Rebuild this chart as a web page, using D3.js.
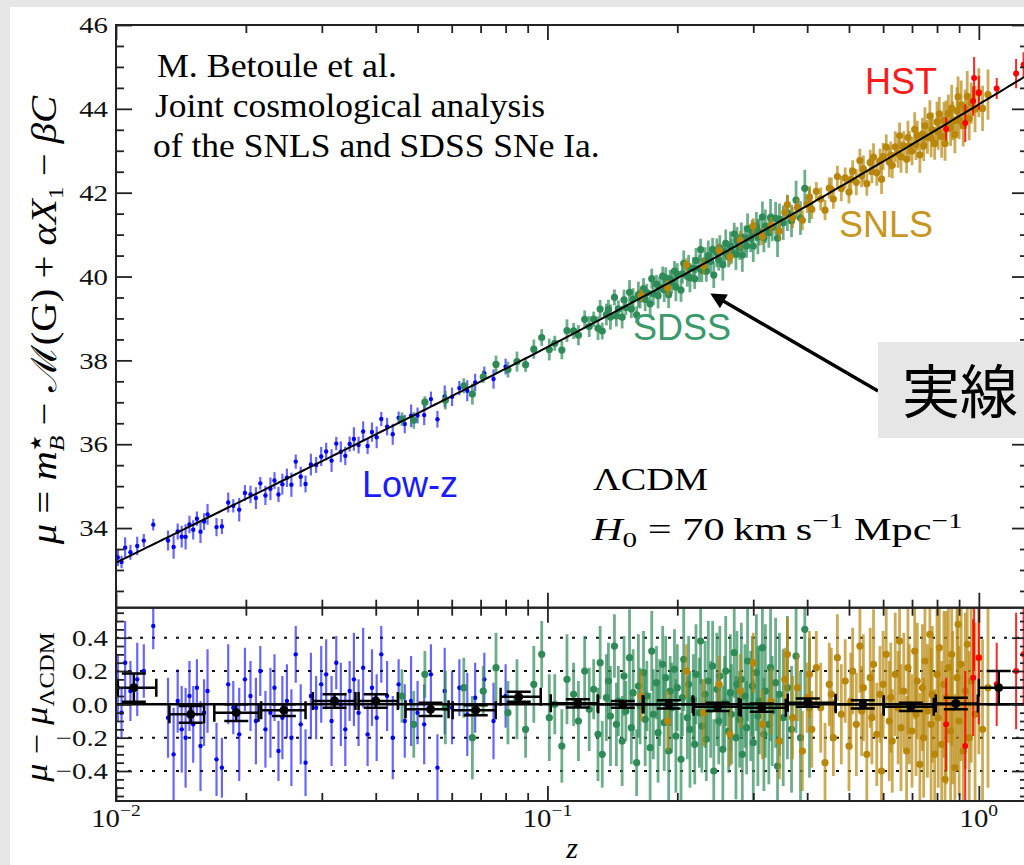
<!DOCTYPE html>
<html>
<head>
<meta charset="utf-8">
<title>Hubble diagram</title>
<script src="https://cdn.jsdelivr.net/npm/d3@7/dist/d3.min.js"></script>
<style>
  html, body { margin: 0; padding: 0; background: #e6e6e6; }
  svg { display: block; }
</style>
</head>
<body>
<svg id="drawing_hubble"></svg>
<script>
// ---- data: redshift, Hubble residual, error ----
const lowzZ = [0.0101, 0.0103, 0.0105, 0.0108, 0.0112, 0.0116, 0.0122, 0.0132, 0.0136, 0.0139,
  0.0142, 0.0145, 0.0148, 0.0151, 0.0154, 0.0157, 0.0160, 0.0163, 0.0171, 0.0176,
  0.0182, 0.0187, 0.0193, 0.0199, 0.0205, 0.0211, 0.0216, 0.0222, 0.0228, 0.0233,
  0.0238, 0.0243, 0.0249, 0.0255, 0.0261, 0.0268, 0.0275, 0.0283, 0.0291, 0.0299,
  0.0307, 0.0316, 0.0324, 0.0332, 0.0340, 0.0348, 0.0356, 0.0365, 0.0374, 0.0383,
  0.0392, 0.0402, 0.0412, 0.0425, 0.0438, 0.0452, 0.0467, 0.0483, 0.0500, 0.0518,
  0.0537, 0.0556, 0.0578, 0.0601, 0.0625, 0.0652, 0.0680, 0.0714, 0.0750, 0.0800];
const lowzRes = [0.10, -0.05, 0.25, 0.08, 0.15, 0.20, 0.47, -0.08, -0.30, 0.02,
  -0.15, -0.20, 0.05, -0.12, 0.10, -0.25, -0.05, 0.08, -0.33, -0.38,
  0.12, -0.02, -0.18, 0.15, 0.05, -0.10, 0.20, -0.15, -0.05, 0.10,
  -0.28, -0.08, 0.02, -0.20, 0.30, -0.12, -0.35, 0.05, -0.02, 0.12,
  0.18, -0.10, 0.25, 0.00, -0.15, 0.08, 0.15, -0.05, 0.22, -0.18,
  0.10, -0.08, 0.30, 0.05, -0.20, 0.12, -0.10, 0.02, -0.05, -0.12,
  0.18, -0.38, 0.08, -0.02, 0.10, -0.06, 0.04, 0.15, -0.10, 0.05];
const lowzErr = [0.20, 0.15, 0.25, 0.18, 0.22, 0.16, 0.14, 0.24, 0.28, 0.19,
  0.26, 0.30, 0.21, 0.23, 0.17, 0.27, 0.20, 0.25, 0.22, 0.18,
  0.24, 0.16, 0.28, 0.19, 0.21, 0.26, 0.15, 0.23, 0.27, 0.20,
  0.18, 0.25, 0.22, 0.29, 0.17, 0.24, 0.20, 0.26, 0.19, 0.23,
  0.21, 0.27, 0.16, 0.25, 0.22, 0.18, 0.28, 0.20, 0.24, 0.19,
  0.23, 0.26, 0.17, 0.21, 0.25, 0.15, 0.22, 0.27, 0.19, 0.24,
  0.18, 0.20, 0.26, 0.22, 0.17, 0.25, 0.21, 0.16, 0.23, 0.19];

const sdssZ = [0.046, 0.049, 0.052, 0.058, 0.064, 0.067, 0.071, 0.076, 0.081, 0.085,
  0.089, 0.093, 0.097, 0.101, 0.104, 0.108, 0.111, 0.115, 0.118, 0.122,
  0.125, 0.128, 0.131, 0.1325, 0.134, 0.137, 0.1385, 0.140, 0.143, 0.1445,
  0.146, 0.149, 0.1505, 0.152, 0.155, 0.1565, 0.158, 0.161, 0.1625, 0.164,
  0.167, 0.1685, 0.170, 0.173, 0.1745, 0.176, 0.179, 0.1805, 0.182, 0.185,
  0.1865, 0.188, 0.191, 0.1925, 0.194, 0.197, 0.1985, 0.200, 0.204, 0.2055,
  0.207, 0.211, 0.2125, 0.214, 0.218, 0.2195, 0.221, 0.225, 0.2265, 0.228,
  0.232, 0.2335, 0.236, 0.239, 0.2415, 0.243, 0.247, 0.2495, 0.251, 0.255,
  0.2575, 0.259, 0.263, 0.2655, 0.267, 0.271, 0.2735, 0.275, 0.279, 0.2815,
  0.283, 0.287, 0.2895, 0.291, 0.296, 0.2985, 0.300, 0.305, 0.3075, 0.310,
  0.315, 0.3175, 0.320, 0.326, 0.329, 0.332, 0.338, 0.3415, 0.345, 0.352,
  0.360, 0.368, 0.377, 0.386, 0.395, 0.405];
const sdssRes = [0.05, -0.12, 0.18, -0.02, 0.10, -0.20, 0.08, 0.22, -0.05, 0.03,
  -0.15, 0.12, 0.30, -0.08, 0.00, -0.25, 0.15, 0.06, -0.10, 0.20,
  -0.03, 0.09, -0.18, 0.25, -0.30, 0.04, 0.14, -0.07, 0.35, -0.12,
  0.02, -0.22, 0.17, -0.04, 0.28, -0.14, 0.07, -0.35, 0.11, -0.01,
  0.19, -0.09, 0.05, -0.26, 0.32, -0.06, 0.13, -0.17, 0.01, 0.24,
  -0.11, 0.16, -0.28, 0.08, -0.02, 0.21, -0.19, 0.10, -0.33, 0.04,
  0.27, -0.08, 0.12, -0.15, 0.03, -0.24, 0.18, -0.05, 0.38, -0.13,
  0.06, -0.21, 0.14, -0.03, 0.23, -0.40, 0.09, -0.10, 0.17, -0.27,
  0.01, 0.20, -0.16, 0.07, -0.06, 0.31, -0.20, 0.12, -0.09, 0.15,
  -0.30, 0.05, -0.14, 0.26, -0.01, 0.11, -0.23, 0.19, -0.07, 0.02,
  0.34, -0.18, 0.08, -0.12, 0.22, -0.04, 0.13, -0.37, 0.06, -0.08,
  0.10, -0.15, 0.29, -0.20, 0.45, -0.02];
const sdssErr = [0.16, 0.20, 0.14, 0.22, 0.18, 0.25, 0.15, 0.21, 0.19, 0.24,
  0.17, 0.23, 0.20, 0.26, 0.18, 0.22, 0.27, 0.19, 0.24, 0.21,
  0.25, 0.18, 0.28, 0.22, 0.20, 0.26, 0.23, 0.30, 0.19, 0.25,
  0.21, 0.27, 0.24, 0.18, 0.29, 0.22, 0.26, 0.20, 0.31, 0.23,
  0.25, 0.28, 0.21, 0.33, 0.24, 0.27, 0.22, 0.30, 0.26, 0.23,
  0.29, 0.25, 0.32, 0.21, 0.27, 0.24, 0.34, 0.26, 0.28, 0.23,
  0.31, 0.25, 0.29, 0.35, 0.27, 0.24, 0.30, 0.33, 0.26, 0.28,
  0.32, 0.25, 0.36, 0.29, 0.27, 0.31, 0.34, 0.26, 0.30, 0.38,
  0.28, 0.33, 0.25, 0.35, 0.30, 0.27, 0.37, 0.32, 0.29, 0.34,
  0.40, 0.31, 0.28, 0.36, 0.33, 0.30, 0.38, 0.35, 0.42, 0.32,
  0.37, 0.34, 0.40, 0.36, 0.44, 0.33, 0.39, 0.45, 0.37, 0.41,
  0.43, 0.38, 0.46, 0.40, 0.44, 0.42];

const snlsZ = [0.165, 0.19, 0.21, 0.23, 0.25, 0.265, 0.28, 0.30, 0.315, 0.33,
  0.345, 0.355, 0.36, 0.37, 0.38, 0.39, 0.40, 0.405, 0.41, 0.42,
  0.43, 0.44, 0.45, 0.455, 0.46, 0.47, 0.48, 0.49, 0.50, 0.505,
  0.51, 0.52, 0.53, 0.535, 0.54, 0.55, 0.56, 0.565, 0.57, 0.58,
  0.59, 0.595, 0.60, 0.61, 0.62, 0.625, 0.63, 0.64, 0.65, 0.655,
  0.66, 0.67, 0.68, 0.685, 0.69, 0.70, 0.71, 0.715, 0.72, 0.73,
  0.74, 0.745, 0.75, 0.76, 0.77, 0.775, 0.78, 0.79, 0.80, 0.805,
  0.81, 0.82, 0.83, 0.835, 0.84, 0.85, 0.86, 0.865, 0.87, 0.88,
  0.89, 0.895, 0.90, 0.91, 0.92, 0.93, 0.94, 0.95, 0.96, 0.98,
  1.00, 1.02, 1.05];
const snlsRes = [0.05, -0.10, 0.20, -0.05, 0.12, -0.18, 0.08, 0.25, -0.12, 0.02,
  -0.22, 0.15, 0.30, -0.08, 0.10, -0.28, 0.04, 0.18, -0.15, 0.22,
  -0.02, -0.35, 0.12, 0.06, -0.20, 0.28, -0.06, 0.14, -0.25, 0.02,
  0.20, -0.12, 0.35, -0.04, 0.10, -0.30, 0.16, -0.08, 0.24, -0.18,
  0.06, -0.40, 0.12, 0.30, -0.10, 0.04, -0.22, 0.18, -0.02, 0.38,
  -0.14, 0.08, -0.28, 0.22, 0.00, -0.16, 0.32, -0.06, 0.14, -0.36,
  0.10, -0.20, 0.26, -0.04, 0.42, -0.12, 0.06, -0.30, 0.18, -0.08,
  0.34, -0.24, 0.12, -0.45, 0.04, 0.22, -0.16, 0.30, -0.02, -0.38,
  0.16, 0.48, -0.10, 0.24, -0.28, 0.08, 0.36, -0.20, 0.14, -0.06,
  0.28, -0.15, 0.10];
const snlsErr = [0.15, 0.18, 0.16, 0.20, 0.17, 0.19, 0.22, 0.18, 0.21, 0.20,
  0.23, 0.19, 0.22, 0.25, 0.20, 0.24, 0.21, 0.26, 0.23, 0.22,
  0.27, 0.24, 0.25, 0.28, 0.23, 0.26, 0.30, 0.25, 0.27, 0.29,
  0.26, 0.31, 0.28, 0.27, 0.32, 0.29, 0.30, 0.28, 0.33, 0.31,
  0.29, 0.35, 0.32, 0.30, 0.36, 0.33, 0.31, 0.37, 0.34, 0.32,
  0.38, 0.35, 0.33, 0.40, 0.36, 0.34, 0.41, 0.37, 0.35, 0.43,
  0.38, 0.36, 0.44, 0.40, 0.38, 0.46, 0.41, 0.39, 0.48, 0.42,
  0.40, 0.50, 0.44, 0.41, 0.52, 0.45, 0.43, 0.55, 0.46, 0.44,
  0.56, 0.48, 0.45, 0.58, 0.50, 0.47, 0.60, 0.52, 0.49, 0.55,
  0.58, 0.54, 0.60];

const hstZ = [0.84, 0.93, 0.97, 0.975, 1.00, 1.10, 1.22, 1.27];
const hstRes = [-0.12, -0.25, 0.16, 0.70, 0.28, 0.12, 0.20, 0.30];
const hstErr = [0.28, 0.45, 0.35, 0.50, 0.40, 0.25, 0.35, 0.30];

// binned residuals (black points)
const binZ = [0.0110, 0.0149, 0.0190, 0.0245, 0.0321, 0.0400, 0.0536, 0.0682, 0.0858, 0.1176,
  0.1495, 0.1911, 0.2482, 0.3139, 0.4013, 0.5381, 0.6955, 0.8843, 1.112];
const binLo = [0.0101, 0.0133, 0.0169, 0.0217, 0.0286, 0.0365, 0.0469, 0.0603, 0.0779, 0.1018,
  0.1311, 0.1670, 0.2183, 0.2806, 0.3607, 0.4658, 0.6020, 0.7946, 1.0];
const binHi = [0.0124, 0.0160, 0.0214, 0.0275, 0.0359, 0.0450, 0.0590, 0.0759, 0.0965, 0.1308,
  0.1663, 0.2172, 0.2776, 0.3568, 0.4658, 0.6020, 0.7862, 0.9943, 1.3];
const binRes = [0.10, -0.06, -0.05, -0.035, 0.02, 0.02, -0.03, -0.035, 0.045, 0.006,
  0.0, 0.0, -0.015, -0.02, 0.01, 0.0, -0.015, 0.005, 0.10];
const binErr = [0.085, 0.05, 0.05, 0.035, 0.04, 0.04, 0.04, 0.03, 0.03, 0.025,
  0.02, 0.025, 0.025, 0.025, 0.025, 0.025, 0.025, 0.035, 0.10];

// model (LambdaCDM)
const H0 = 70, OMEGA_M = 0.295, C_KMS = 299792.458;

// axes
const zDomain = [0.01, 1.3];
const muDomain = [32.1, 46];
const resDomain = [-0.58, 0.58];
const zMajor = [0.01, 0.1, 1];
const zMajorExp = ['\u22122', '\u22121', '0'];
const zMinor = [0.02, 0.03, 0.04, 0.05, 0.06, 0.07, 0.08, 0.09, 0.2, 0.3, 0.4, 0.5, 0.6, 0.7, 0.8, 0.9];
const muMajor = [34, 36, 38, 40, 42, 44, 46];
const resMajor = [-0.4, -0.2, 0.0, 0.2, 0.4];
const resGrid = [-0.4, -0.2, 0.2, 0.4];

var config = {
    parent: '#drawing_hubble',
    width: 1024,
    height: 865,
    left: 116, right: 1028, top: 25, mid: 607.7, bottom: 801
};

const SERIF = "'Liberation Serif', 'Times New Roman', serif";
const SANS = "'Liberation Sans', Arial, sans-serif";

function distanceModulus(z) {
    // Simpson integration of the comoving distance
    const n = 120, h = z / n;
    let s = 0;
    for (let i = 0; i <= n; i++) {
        const zz = i * h;
        const f = 1 / Math.sqrt(OMEGA_M * Math.pow(1 + zz, 3) + (1 - OMEGA_M));
        s += (i === 0 || i === n) ? f : (i % 2 ? 4 * f : 2 * f);
    }
    const dc = (C_KMS / H0) * s * h / 3;
    return 5 * Math.log10((1 + z) * dc) + 25;
}

const svg = d3.select(config.parent)
    .attr('width', config.width)
    .attr('height', config.height);

svg.append('rect').attr('width', config.width).attr('height', config.height).attr('fill', '#e6e6e6');
svg.append('rect').attr('x', 10).attr('y', 7)
    .attr('width', config.width - 10).attr('height', config.height - 7).attr('fill', '#ffffff');

const xscale = d3.scaleLog().domain(zDomain).range([config.left, config.right]);
const ytop = d3.scaleLinear().domain(muDomain).range([config.mid, config.top]);
const yres = d3.scaleLinear().domain(resDomain).range([config.bottom, config.mid]);

const defs = svg.append('defs');
defs.append('clipPath').attr('id', 'clip-top').append('rect')
    .attr('x', config.left).attr('y', config.top)
    .attr('width', config.right - config.left).attr('height', config.mid - config.top);
defs.append('clipPath').attr('id', 'clip-res').append('rect')
    .attr('x', config.left).attr('y', config.mid)
    .attr('width', config.right - config.left).attr('height', config.bottom - config.mid);
defs.append('marker').attr('id', 'arrowhead')
    .attr('viewBox', '0 0 10 10').attr('refX', 8).attr('refY', 5)
    .attr('markerWidth', 6).attr('markerHeight', 4.5).attr('orient', 'auto')
    .append('path').attr('d', 'M0,0 L10,5 L0,10 z').attr('fill', '#000');

// dotted grid in the residual panel
svg.append('g').selectAll('line').data(resGrid).join('line')
    .attr('x1', config.left).attr('x2', config.right)
    .attr('y1', d => yres(d)).attr('y2', d => yres(d))
    .attr('stroke', '#111').attr('stroke-width', 2).attr('stroke-dasharray', '3,9');

const surveys = [
    { z: lowzZ, res: lowzRes, err: lowzErr, color: '#0000ff', r: 2.2, bw: 2.2, bo: 0.6 },
    { z: sdssZ, res: sdssRes, err: sdssErr, color: '#2e8b57', r: 3.6, bw: 2.8, bo: 0.7 },
    { z: snlsZ, res: snlsRes, err: snlsErr, color: '#b8860b', r: 3.6, bw: 2.8, bo: 0.7 },
    { z: hstZ, res: hstRes, err: hstErr, color: '#ff0000', r: 3, bw: 2, bo: 0.85 }
];

const topG = svg.append('g').attr('clip-path', 'url(#clip-top)');
const resG = svg.append('g').attr('clip-path', 'url(#clip-res)');

function drawPoints(parent, pts, yval, s) {
    const g = parent.append('g');
    g.selectAll('line').data(pts).join('line')
        .attr('x1', d => xscale(d.z)).attr('x2', d => xscale(d.z))
        .attr('y1', d => yval(d, -1)).attr('y2', d => yval(d, 1))
        .attr('stroke', s.color).attr('stroke-opacity', s.bo).attr('stroke-width', s.bw);
    g.selectAll('circle').data(pts).join('circle')
        .attr('cx', d => xscale(d.z)).attr('cy', d => yval(d, 0))
        .attr('r', s.r).attr('fill', s.color);
}

surveys.forEach(s => {
    const pts = d3.zip(s.z, s.res, s.err).map(([z, r, e]) => ({ z: z, r: r, e: e, mu: distanceModulus(z) + r }));
    drawPoints(topG, pts, (d, k) => ytop(d.mu + k * d.e), s);
    drawPoints(resG, pts, (d, k) => yres(d.r + k * d.e), s);
});

// model curve
const modelZ = d3.range(0, 241).map(i => zDomain[0] * Math.pow(zDomain[1] / zDomain[0], i / 240));
topG.append('path')
    .datum(modelZ)
    .attr('d', d3.line().x(z => xscale(z)).y(z => ytop(distanceModulus(z))))
    .attr('fill', 'none').attr('stroke', '#000').attr('stroke-width', 2);
resG.append('line')
    .attr('x1', config.left).attr('x2', config.right)
    .attr('y1', yres(0)).attr('y2', yres(0))
    .attr('stroke', '#000').attr('stroke-width', 2.5);

// binned residuals
const bins = d3.zip(binZ, binLo, binHi, binRes, binErr)
    .map(([z, lo, hi, r, e]) => ({ z: z, lo: lo, hi: hi, r: r, e: e }));
const binG = resG.append('g').attr('stroke', '#000').attr('stroke-width', 2.5);
binG.selectAll('.hbar').data(bins).join('line').attr('class', 'hbar')
    .attr('x1', d => xscale(d.lo)).attr('x2', d => xscale(d.hi))
    .attr('y1', d => yres(d.r)).attr('y2', d => yres(d.r));
binG.selectAll('.hcap').data(bins.flatMap(d => [{ z: d.lo, r: d.r }, { z: d.hi, r: d.r }])).join('line').attr('class', 'hcap')
    .attr('x1', d => xscale(d.z)).attr('x2', d => xscale(d.z))
    .attr('y1', d => yres(d.r) - 9).attr('y2', d => yres(d.r) + 9);
binG.selectAll('.vbar').data(bins).join('line').attr('class', 'vbar')
    .attr('x1', d => xscale(d.z)).attr('x2', d => xscale(d.z))
    .attr('y1', d => yres(d.r - d.e)).attr('y2', d => yres(d.r + d.e));
binG.selectAll('.vcap').data(bins.flatMap(d => [{ z: d.z, v: d.r - d.e }, { z: d.z, v: d.r + d.e }])).join('line').attr('class', 'vcap')
    .attr('x1', d => xscale(d.z) - 12).attr('x2', d => xscale(d.z) + 12)
    .attr('y1', d => yres(d.v)).attr('y2', d => yres(d.v));
resG.append('g').selectAll('circle').data(bins).join('circle')
    .attr('cx', d => xscale(d.z)).attr('cy', d => yres(d.r))
    .attr('r', 4.5).attr('fill', '#000');

// frames
[[config.top, config.mid], [config.mid, config.bottom]].forEach(([y0, y1]) => {
    svg.append('rect')
        .attr('x', config.left).attr('y', y0)
        .attr('width', config.right - config.left).attr('height', y1 - y0)
        .attr('fill', 'none').attr('stroke', '#222').attr('stroke-width', 2);
});

// ticks
function tickGroup(axis, ty, tx) {
    return svg.append('g')
        .attr('transform', `translate(${tx || 0}, ${ty || 0})`)
        .call(axis)
        .call(g => g.select('.domain').remove())
        .call(g => g.selectAll('line').attr('stroke', '#222').attr('stroke-width', 1.8));
}
const muMinor = d3.range(32.5, 46, 0.5).filter(v => muMajor.indexOf(v) < 0);
const resMinor = d3.range(-11, 12).map(i => i * 0.05).filter(v => Math.abs(Math.round(v * 5) - v * 5) > 1e-6);

[[d3.axisTop, config.top], [d3.axisBottom, config.mid], [d3.axisTop, config.mid], [d3.axisBottom, config.bottom]]
    .forEach(([ax, y]) => {
        tickGroup(ax(xscale).tickValues(zMajor).tickSize(-15).tickFormat(''), y);
        tickGroup(ax(xscale).tickValues(zMinor).tickSize(-8).tickFormat(''), y);
    });

tickGroup(d3.axisLeft(ytop).tickValues(muMinor).tickSize(-8).tickFormat(''), 0, config.left);
tickGroup(d3.axisRight(ytop).tickValues(muMinor).tickSize(-8).tickFormat(''), 0, config.right);
tickGroup(d3.axisRight(ytop).tickValues(muMajor).tickSize(-16).tickFormat(''), 0, config.right);
tickGroup(d3.axisLeft(yres).tickValues(resMinor).tickSize(-8).tickFormat(''), 0, config.left);
tickGroup(d3.axisRight(yres).tickValues(resMinor).tickSize(-8).tickFormat(''), 0, config.right);
tickGroup(d3.axisRight(yres).tickValues(resMajor).tickSize(-16).tickFormat(''), 0, config.right);

const muAxis = tickGroup(d3.axisLeft(ytop).tickValues(muMajor).tickSize(-16).tickPadding(8).tickFormat(d3.format('d')), 0, config.left);
const resAxis = tickGroup(d3.axisLeft(yres).tickValues(resMajor).tickSize(-16).tickPadding(8).tickFormat(d3.format('.1f')), 0, config.left);
[muAxis, resAxis].forEach(g => {
    g.attr('font-size', 24).attr('font-family', SERIF);
    g.selectAll('text')
        .attr('x', -8 / 1.2)
        .attr('transform', 'scale(1.2,1)')
        .attr('fill', '#111')
        .style('font-size', '24px')
        .style('font-family', SERIF);
});

// x tick labels 10^n
zMajor.forEach((z, i) => {
    const t = svg.append('text')
        .attr('transform', `translate(${xscale(z)}, 827) scale(1.15,1)`)
        .attr('text-anchor', 'middle')
        .attr('fill', '#111')
        .style('font-family', SERIF).style('font-size', '25px');
    t.append('tspan').text('10');
    t.append('tspan').attr('dy', -11).style('font-size', '17px').text(zMajorExp[i]);
});

svg.append('text')
    .attr('x', 572).attr('y', 858)
    .attr('text-anchor', 'middle')
    .style('font-family', SERIF).style('font-size', '30px').style('font-style', 'italic')
    .text('z');

// fit text horizontally to the width measured on the figure
function fitText(sel, x, y, width, rotate) {
    const w = sel.node().getBBox().width;
    sel.attr('transform', `translate(${x},${y}) rotate(${rotate || 0}) scale(${width / w},1)`);
    return sel;
}
function serifText(size, anchor) {
    return svg.append('text')
        .attr('text-anchor', anchor || 'start')
        .attr('fill', '#000')
        .style('font-family', SERIF).style('font-size', size + 'px');
}

// y axis labels
const ylab = serifText(35, 'middle');
ylab.append('tspan').style('font-style', 'italic').text('\u03bc');
ylab.append('tspan').text(' = ');
ylab.append('tspan').style('font-style', 'italic').text('m');
ylab.append('tspan').attr('dy', -15).style('font-size', '15px').text('\u2605');
ylab.append('tspan').attr('dx', -13).attr('dy', 23).style('font-size', '22px').style('font-style', 'italic').text('B');
ylab.append('tspan').attr('dy', -8).text(' \u2212 \u2133(G) + ');
ylab.append('tspan').style('font-style', 'italic').text('\u03b1X');
ylab.append('tspan').attr('dy', 7).style('font-size', '22px').text('1');
ylab.append('tspan').attr('dy', -7).text(' \u2212 ');
ylab.append('tspan').style('font-style', 'italic').text('\u03b2C');
fitText(ylab, 56, 320, 450, -90);

const rlab = serifText(31, 'middle');
rlab.append('tspan').style('font-style', 'italic').text('\u03bc');
rlab.append('tspan').text(' \u2212 ');
rlab.append('tspan').style('font-style', 'italic').text('\u03bc');
rlab.append('tspan').attr('dy', 7).style('font-size', '21px').text('\u039bCDM');
fitText(rlab, 47, 707, 151, -90);

// annotations
fitText(serifText(33).text('M. Betoule et al.'), 157, 77, 240);
fitText(serifText(33).text('Joint cosmological analysis'), 155, 117, 390);
fitText(serifText(33).text('of the SNLS and SDSS SNe Ia.'), 153, 157, 447);

fitText(serifText(31).text('\u039bCDM'), 593, 490, 115);
const h0 = serifText(32);
h0.append('tspan').style('font-style', 'italic').text('H');
h0.append('tspan').attr('dy', 7).style('font-size', '22px').text('0');
h0.append('tspan').attr('dy', -7).text('  =  70\u2009km\u2009s');
h0.append('tspan').attr('dy', -12).style('font-size', '22px').text('\u22121');
h0.append('tspan').attr('dy', 12).text(' Mpc');
h0.append('tspan').attr('dy', -12).style('font-size', '22px').text('\u22121');
fitText(h0, 592, 540, 372);

const labels = [
    { text: 'HST', x: 865, y: 94, color: '#ff1a1a' },
    { text: 'SNLS', x: 839, y: 237, color: '#c8961e' },
    { text: 'SDSS', x: 633, y: 340, color: '#3a9a6a' },
    { text: 'Low-z', x: 362, y: 497, color: '#1a1aff' }
];
svg.append('g').selectAll('text').data(labels).join('text')
    .attr('x', d => d.x).attr('y', d => d.y)
    .attr('fill', d => d.color)
    .style('font-family', SANS).style('font-size', '36px')
    .text(d => d.text);

// callout: arrow and boxed label
svg.append('line')
    .attr('x1', 878).attr('y1', 391).attr('x2', 713).attr('y2', 295)
    .attr('stroke', '#000').attr('stroke-width', 3.5)
    .attr('marker-end', 'url(#arrowhead)');
svg.append('rect')
    .attr('x', 878).attr('y', 342).attr('width', 150).attr('height', 96)
    .attr('fill', '#e6e6e6');
svg.append('text')
    .attr('x', 902).attr('y', 413)
    .attr('fill', '#000')
    .style('font-family', "'Noto Sans CJK JP', sans-serif").style('font-size', '58px')
    .text('\u5b9f\u7dda');
</script>
</body>
</html>
